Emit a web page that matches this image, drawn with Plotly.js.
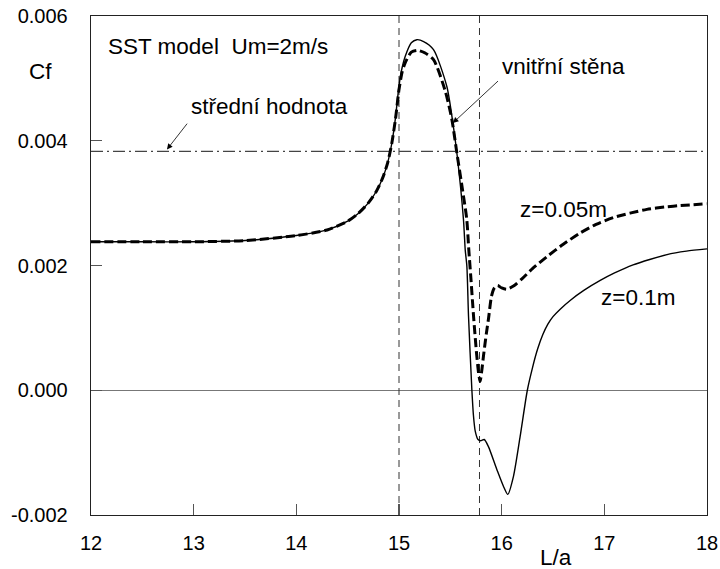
<!DOCTYPE html>
<html>
<head>
<meta charset="utf-8">
<script src="https://cdn.plot.ly/plotly-3.0.1.min.js"></script>
<style>html,body{margin:0;padding:0;background:#fff;}#chart{width:720px;height:569px;}</style>
</head>
<body>
<div id="chart"></div>
<script>
// z = 0.1 m (solid)
const xSolid = [12.0, 12.5, 13.0, 13.5, 14.0, 14.3, 14.5, 14.6, 14.7, 14.78, 14.84, 14.89, 14.93, 14.965, 15.0, 15.03, 15.06, 15.12, 15.174, 15.24, 15.336, 15.466, 15.52, 15.564, 15.628, 15.645, 15.661, 15.677, 15.71, 15.725, 15.742, 15.77, 15.795, 15.83, 15.87, 15.953, 16.02, 16.06, 16.115, 16.18, 16.25, 16.3, 16.35, 16.4, 16.45, 16.5, 16.57, 16.667, 16.8, 16.96, 17.1, 17.28, 17.45, 17.61, 17.8, 18.0];
const ySolid = [0.00238, 0.00238, 0.00238, 0.00240, 0.00248, 0.00257, 0.00271, 0.00283, 0.00300, 0.00319, 0.0034, 0.00365, 0.00396, 0.00436, 0.00488, 0.00517, 0.00535, 0.00557, 0.00562, 0.00559, 0.00546, 0.00487, 0.00434, 0.0038, 0.002736, 0.00225, 0.00199, 0.00119, 0.0, -0.0004, -0.00065, -0.00079, -0.00081, -0.00079, -0.0009, -0.00127, -0.00155, -0.00167, -0.00138, -0.00074, 0.0, 0.00036, 0.00066, 0.00089, 0.00106, 0.00118, 0.0013, 0.00144, 0.0016, 0.00176, 0.00188, 0.00201, 0.0021, 0.002175, 0.00223, 0.002266];

// z = 0.05 m (dashed)
const xDash = [12.0, 12.5, 13.0, 13.5, 14.0, 14.3, 14.5, 14.6, 14.7, 14.78, 14.84, 14.89, 14.93, 14.965, 15.0, 15.03, 15.06, 15.12, 15.18, 15.25, 15.336, 15.45, 15.515, 15.564, 15.62, 15.66, 15.68, 15.70, 15.726, 15.755, 15.775, 15.79, 15.805, 15.823, 15.85, 15.872, 15.9, 15.925, 15.96, 16.0, 16.05, 16.115, 16.2, 16.3, 16.44, 16.6, 16.764, 16.92, 17.09, 17.25, 17.414, 17.6, 17.738, 18.0];
const yDash = [0.00238, 0.00238, 0.00238, 0.00240, 0.00248, 0.00257, 0.00271, 0.00283, 0.00300, 0.00319, 0.0034, 0.00365, 0.00396, 0.00434, 0.00482, 0.0051, 0.00525, 0.00542, 0.00545, 0.00541, 0.0053, 0.0048, 0.00434, 0.0038, 0.0032, 0.00274, 0.00225, 0.0018, 0.00119, 0.0006, 0.00028, 0.00014, 0.0003, 0.00055, 0.0009, 0.00115, 0.0015, 0.00163, 0.00168, 0.00164, 0.00162, 0.00167, 0.00179, 0.00195, 0.00214, 0.00234, 0.00252, 0.00266, 0.00277, 0.00284, 0.0029, 0.00294, 0.00296, 0.00299];

const meanValue = 0.00383;            // střední hodnota
const wallPositions = [15.0, 15.784]; // vertical dashed lines

const xTickVals = [12, 13, 14, 15, 16, 17, 18];
const xTickText = ['12', '13', '14', '15', '16', '17', '18'];
const yTickVals = [-0.002, 0.0, 0.002, 0.004, 0.006];
const yTickText = ['-0.002', '0.000', '0.002', '0.004', '0.006'];

const FONT = 'Arial, "Liberation Sans", sans-serif';

const traces = [];
wallPositions.forEach(function (xv) {
  traces.push({x: [xv, xv], y: [-0.002, 0.006], mode: 'lines', hoverinfo: 'skip',
    line: {color: '#333', width: 1, dash: '7px,5px'}, showlegend: false});
});
traces.push({x: [12, 18], y: [meanValue, meanValue], mode: 'lines',
  line: {color: '#444', width: 1.1, dash: '12px,4px,2px,4px'}, showlegend: false});
traces.push({x: xSolid, y: ySolid, mode: 'lines', name: 'z=0.1m',
  line: {color: '#000', width: 1.4, shape: 'spline', smoothing: 0.7}, showlegend: false});
traces.push({x: xDash, y: yDash, mode: 'lines', name: 'z=0.05m',
  line: {color: '#000', width: 3, dash: '9px,4px', shape: 'spline', smoothing: 0.7}, showlegend: false});

const txt = {family: FONT, size: 22.5, color: '#000'};

const layout = {
  width: 720, height: 569,
  margin: {l: 91, r: 13, t: 16, b: 54},
  paper_bgcolor: '#fff', plot_bgcolor: '#fff',
  font: {family: FONT, size: 20, color: '#000'},
  xaxis: {
    range: [12, 18], tickmode: 'array', tickvals: xTickVals, ticktext: xTickText,
    ticks: 'inside', ticklen: 11, tickwidth: 1.2, tickcolor: '#555',
    showline: true, linecolor: '#222', linewidth: 1.3, mirror: true,
    showgrid: false, zeroline: false, ticklabelstandoff: 10,
    tickfont: {family: FONT, size: 20, color: '#000'}
  },
  yaxis: {
    range: [-0.002, 0.006], tickmode: 'array', tickvals: yTickVals, ticktext: yTickText,
    ticks: 'inside', ticklen: 11, tickwidth: 1.2, tickcolor: '#555',
    showline: true, linecolor: '#222', linewidth: 1.3, mirror: true,
    showgrid: false, zeroline: true, zerolinecolor: '#777', zerolinewidth: 1.4,
    ticklabelstandoff: 18,
    tickfont: {family: FONT, size: 20, color: '#000'}
  },
  annotations: [
    {x: 12.149, y: 0.005513, xref: 'x', yref: 'y', text: 'SST model  Um=2m/s', showarrow: false, xanchor: 'left', yanchor: 'middle', font: txt},
    {x: -0.1034, y: 0.005112, xref: 'paper', yref: 'y', text: 'Cf', showarrow: false, xanchor: 'left', yanchor: 'middle', font: txt},
    {x: 12.95, y: 0.004551, xref: 'x', yref: 'y', text: 'střední hodnota', showarrow: false, xanchor: 'left', yanchor: 'middle', font: txt},
    {x: 12.74, y: 0.00386, xref: 'x', yref: 'y', text: '', showarrow: true, ax: 21.3, ay: -27.3, arrowhead: 2, arrowsize: 1.4, arrowwidth: 0.8, arrowcolor: '#000'},
    {x: 15.979, y: 0.005192, xref: 'x', yref: 'y', text: 'vnitřní stěna', showarrow: false, xanchor: 'left', yanchor: 'middle', font: txt},
    {x: 15.525, y: 0.004285, xref: 'x', yref: 'y', text: '', showarrow: true, ax: 46.6, ay: -43.3, arrowhead: 2, arrowsize: 1.4, arrowwidth: 0.8, arrowcolor: '#000'},
    {x: 16.158, y: 0.002896, xref: 'x', yref: 'y', text: 'z=0.05m', showarrow: false, xanchor: 'left', yanchor: 'middle', font: txt},
    {x: 16.952, y: 0.001481, xref: 'x', yref: 'y', text: 'z=0.1m', showarrow: false, xanchor: 'left', yanchor: 'middle', font: txt},
    {x: 16.53, y: -0.0857, xref: 'x', yref: 'paper', text: 'L/a', showarrow: false, xanchor: 'center', yanchor: 'middle', font: txt}
  ]
};

Plotly.newPlot('chart', traces, layout, {displayModeBar: false, staticPlot: true});
</script>
</body>
</html>
